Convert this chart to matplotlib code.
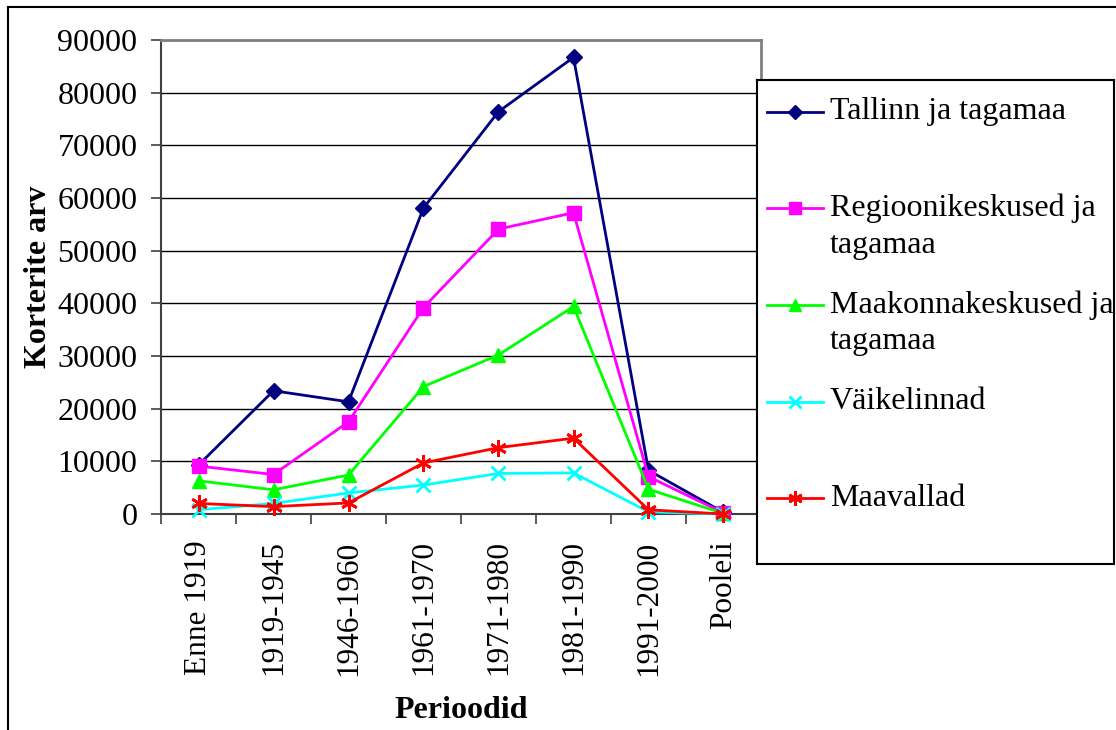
import numpy as np
import matplotlib.pyplot as plt
from matplotlib.lines import Line2D

plt.rcParams['font.family'] = ['Liberation Serif', 'DejaVu Serif']

periods = ['Enne 1919', '1919-1945', '1946-1960', '1961-1970',
           '1971-1980', '1981-1990', '1991-2000', 'Pooleli']

tallinn = [9300, 23400, 21300, 58100, 76400, 86700, 8300, 300]
regioon = [9100, 7500, 17500, 39200, 54100, 57200, 7100, 200]
maakond = [6300, 4600, 7400, 24200, 30200, 39400, 4700, 100]
vaike = [800, 2000, 4000, 5500, 7700, 7800, 400, 0]
maavallad = [2000, 1400, 2100, 9700, 12600, 14400, 800, 0]

labels = ['Tallinn ja tagamaa', 'Regioonikeskused ja\ntagamaa',
          'Maakonnakeskused ja\ntagamaa', 'Väikelinnad', 'Maavallad']
colors = ['#000080', '#FF00FF', '#00FF00', '#00FFFF', '#FF0000']
markers = ['D', 's', '^', 'x', (6, 2, 0)]
msizes = [8, 10, 10, 10, 12]
series = [tallinn, regioon, maakond, vaike, maavallad]

W, H = 1116, 730
fs = 23
fig = plt.figure(figsize=(W / 100, H / 100), dpi=100)
ax = fig.add_axes([161 / W, 1 - 514 / H, 600 / W, 474 / H])

x = np.arange(len(periods))
for vals, c, m, ms in zip(series, colors, markers, msizes):
    ax.plot(x, vals, color=c, marker=m, markersize=ms, linewidth=2,
            markeredgewidth=2 if m in ('x', (6, 2, 0)) else 1,
            markeredgecolor=c, markerfacecolor=c, clip_on=False, zorder=3)

ax.set_xlim(-0.5, len(periods) - 0.5)
ax.set_ylim(0, 90000)
ax.set_yticks(np.arange(0, 90001, 10000))
ax.set_xticks(x)
ax.set_xticklabels(periods, rotation=90)
ax.set_xticks(np.arange(-0.5, len(periods), 1), minor=True)
ax.tick_params(axis='x', which='major', length=0, pad=19, labelsize=fs - 0.5)
ax.tick_params(axis='x', which='minor', length=7, width=1.2, direction='out', color='#404040')
ax.tick_params(axis='y', length=7, width=1.2, direction='out', pad=10, labelsize=fs, color='#404040')
ax.yaxis.grid(True, color='black', linewidth=1)
ax.set_axisbelow(True)

for s in ['top', 'right']:
    ax.spines[s].set_color('#808080')
    ax.spines[s].set_linewidth(2)
for s in ['left', 'bottom']:
    ax.spines[s].set_color('#404040')
    ax.spines[s].set_linewidth(1.5)

ax.set_xlabel('Perioodid', fontsize=fs, fontweight='bold', va='center')
ax.set_ylabel('Korterite arv', fontsize=fs, fontweight='bold', va='center')
ax.xaxis.set_label_coords(0.5, -(710 - 514) / 474)
ax.yaxis.set_label_coords(-(161 - 38) / 600, 0.5)

# legend box drawn by hand so rows match the original spacing
lx0, ly0, lx1, ly1 = 757, 80, 1114, 564
lg = fig.add_axes([lx0 / W, 1 - ly1 / H, (lx1 - lx0) / W, (ly1 - ly0) / H])
lg.set_xlim(lx0, lx1)
lg.set_ylim(ly1, ly0)
lg.set_xticks([])
lg.set_yticks([])
for s in lg.spines.values():
    s.set_color('black')
    s.set_linewidth(1.5)
rows = [111.7, 208, 305, 401.7, 498]
for lab, c, m, ms, ry in zip(labels, colors, markers, msizes, rows):
    lg.plot([767, 823], [ry, ry], color=c, linewidth=2)
    lg.plot([795], [ry], color=c, marker=m, markersize=ms * 0.85,
            markeredgewidth=2 if m in ('x', (6, 2, 0)) else 1)
    for i, line in enumerate(lab.split('\n')):
        lg.text(830, ry + i * 37, line, fontsize=fs, va='center', ha='left')

# outer frame of the chart
fig.add_artist(Line2D([8 / W, 8 / W], [0, 1 - 7 / H], color='black', linewidth=1.5,
                      transform=fig.transFigure))
fig.add_artist(Line2D([8 / W, 1], [1 - 7 / H, 1 - 7 / H], color='black', linewidth=1.5,
                      transform=fig.transFigure))

fig.savefig('out.png', dpi=100)
